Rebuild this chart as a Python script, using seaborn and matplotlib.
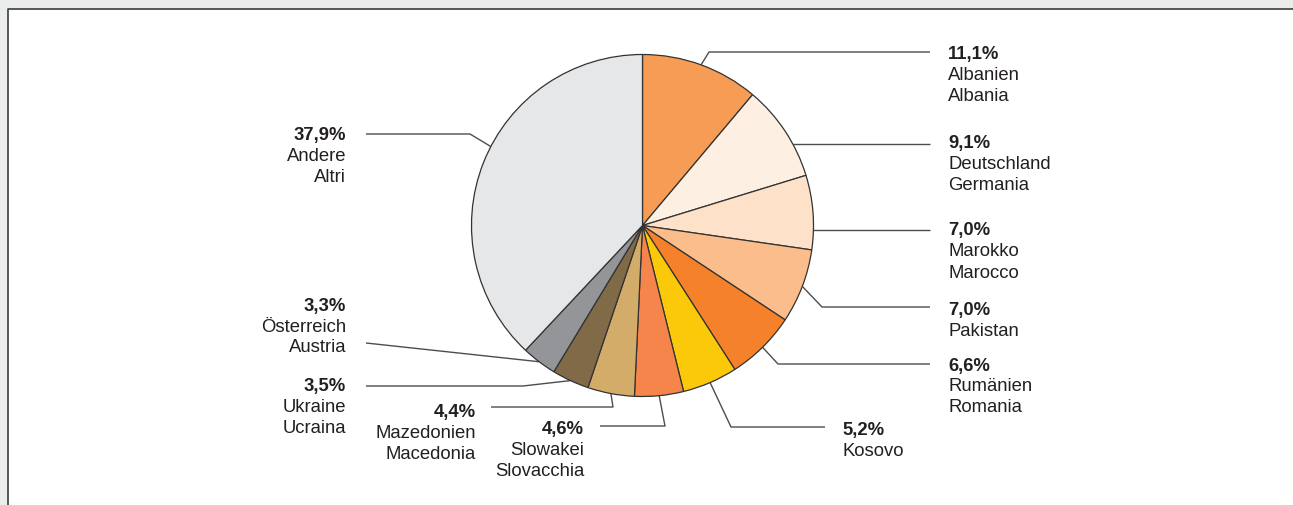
"""Pie chart: share of foreign residents by citizenship."""
import numpy as np
import matplotlib
matplotlib.use("Agg")
import matplotlib.pyplot as plt
import matplotlib.patches as mpatches
import seaborn as sns

sns.set_theme(style="white")
plt.rcParams["font.family"] = ["Liberation Sans", "DejaVu Sans"]

# ── data ──────────────────────────────────────────────────────────────────────
VALUES   = [11.1, 9.1, 7.0, 7.0, 6.6, 5.2, 4.6, 4.4, 3.5, 3.3, 37.9]
NAMES_DE = ["Albanien", "Deutschland", "Marokko", "Pakistan", "Rumänien", "Kosovo",
            "Slowakei", "Mazedonien", "Ukraine", "Österreich", "Andere"]
NAMES_IT = ["Albania", "Germania", "Marocco", "", "Romania", "",
            "Slovacchia", "Macedonia", "Ucraina", "Austria", "Altri"]
COLORS   = ["#f69c54", "#feefe3", "#fde1c8", "#fbbd8c", "#f5822b", "#fcc80a",
            "#f5854a", "#d4ac6a", "#806a47", "#939598", "#e6e7e8"]

# ── layout (pixel coords, y down) ─────────────────────────────────────────────
W, H = 1293, 506
CX, CY, R = 642.5, 226.5, 171
TXT_COLOR = "#231f20"
LINE_COLOR = "#4d4d4d"
LINE_STEP = 21
# text anchor x, first-line centre y, alignment
TEXT_X  = [948, 948, 948, 948, 948, 842, 584, 476, 346, 346, 346]
TEXT_Y  = [54, 143, 231, 310, 366, 431, 430, 413, 387, 306, 135]
TEXT_HA = ["left"] * 6 + ["right"] * 5
# leader: horizontal y, outer end x, elbow x (None = straight from pie edge)
LEAD_Y  = [53, 145, 231, 308, 365, 428, 427, 408, 387, 344, 135]
LEAD_X  = [930, 930, 930, 930, 930, 825, 600, 491, 366, 366, 366]
ELBOW_X = [709, None, None, 822, 778, 731, 665, 613, 523, 366, 470]
# leader start angle on the rim in degrees (None = wedge middle)
ANCHOR  = [None, None, None, None, None, None, None, None, None, None, -152.5]

fig = plt.figure(figsize=(W / 100, H / 100), dpi=100)
fig.patch.set_facecolor("#ebecec")
fig.patch.set_edgecolor("#ebecec")

ax = fig.add_axes([0, 0, 1, 1])
ax.patch.set_alpha(0)

# white panel, frame only on the left and top edges
ax.add_patch(mpatches.Rectangle((8, 10), 3000, 3000, facecolor="white",
                                edgecolor="none", zorder=0, clip_on=False))
ax.plot([8, 8, 3000], [3000, 10, 10], color="#4a4a4a", linewidth=1.3,
        zorder=0.5, clip_on=False)

# y axis inverted -> start at -90 and run counterclockwise in data = clockwise on screen
wedges, _ = ax.pie(VALUES, colors=COLORS, startangle=-90, counterclock=True,
                   center=(CX, CY), radius=R,
                   wedgeprops=dict(edgecolor="#333333", linewidth=0.9))
for w in wedges:
    w.set_zorder(2)

ax.set_xlim(0, W)
ax.set_ylim(H, 0)
ax.set_aspect("equal")
ax.axis("off")

for i, w in enumerate(wedges):
    ly, lx, ex = LEAD_Y[i], LEAD_X[i], ELBOW_X[i]
    if ex is None:
        # horizontal leader starting where it meets the circle
        sx = CX + np.sqrt(R**2 - (ly - CY) ** 2)
        xs, ys = [sx, lx], [ly, ly]
    else:
        ang = ANCHOR[i] if ANCHOR[i] is not None else (w.theta1 + w.theta2) / 2
        mid = np.deg2rad(ang)
        sx, sy = CX + R * np.cos(mid), CY + R * np.sin(mid)
        xs, ys = [sx, ex, lx], [sy, ly, ly]
    ax.plot(xs, ys, color=LINE_COLOR, linewidth=1.0, zorder=1,
            solid_capstyle="butt")

    lines = [f"{VALUES[i]:.1f}%".replace(".", ","), NAMES_DE[i]]
    if NAMES_IT[i]:
        lines.append(NAMES_IT[i])
    for k, txt in enumerate(lines):
        ax.text(TEXT_X[i], TEXT_Y[i] + k * LINE_STEP, txt, ha=TEXT_HA[i], va="center",
                fontsize=13.3, color=TXT_COLOR,
                fontweight="bold" if k == 0 else "normal")

plt.savefig("out.png", dpi=100, facecolor=fig.get_facecolor(),
            edgecolor=fig.get_facecolor())
plt.close()
